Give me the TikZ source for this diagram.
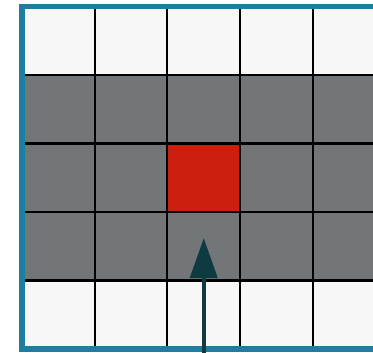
\documentclass[tikz,border=0pt]{standalone}
\usetikzlibrary{arrows.meta}

\definecolor{cellwhite}{HTML}{F7F7F7}
\definecolor{cellgray}{HTML}{737678}
\definecolor{cellred}{HTML}{CC1F0F}
\definecolor{frameblue}{HTML}{1C7FA0}
\definecolor{arrowteal}{HTML}{0E3B40}

\begin{document}
\begin{tikzpicture}[x=1.454cm, y=1.37cm,
  whitecell/.style={shape=rectangle, draw=black, line width=1.2pt, fill=cellwhite, minimum width=1.454cm, minimum height=1.37cm, inner sep=0 },
  graycell/.style={whitecell, fill=cellgray },
  redcell/.style={whitecell, fill=cellred },
  gridframe/.style={draw=frameblue, line width=3pt },
  pusharrow/.style={draw=arrowteal, line width=2.4pt, -{Triangle[width=0.54cm, length=0.8cm]} },
]
%%%page
\useasboundingbox (-0.3026,-0.0438) rectangle (4.828,5.095);
\clip (-0.3026,-0.0438) rectangle (4.828,5.095);
%%%cells
\foreach \c in {0,...,4} {
  \node[whitecell] (cell-\c-0) at (\c+0.5,0.5) {};
  \node[whitecell] (cell-\c-4) at (\c+0.5,4.5) {};
  \foreach \r in {1,2,3} {
    \node[graycell] (cell-\c-\r) at (\c+0.5,\r+0.5) {};
  }
}
\node[redcell] (target) at (2.5,2.5) {};
%%%frame
\draw[gridframe] (0,0) rectangle (5,5);
%%%arrow
\coordinate (start) at (2.5,-0.1);
\coordinate (tip) at (2.5,1.62);
\draw[pusharrow] (start) -- (tip);
%%%%%%%%%
\end{tikzpicture}
\end{document}
